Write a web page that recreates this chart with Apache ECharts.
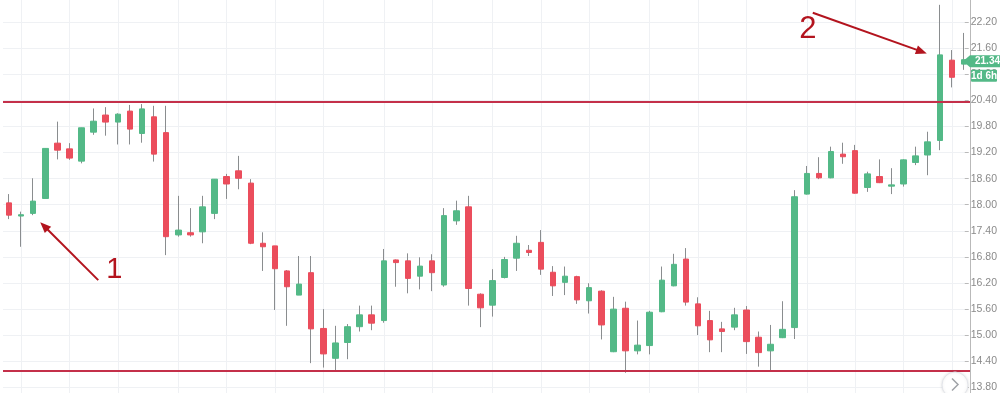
<!DOCTYPE html>
<html><head><meta charset="utf-8">
<script src="https://cdn.jsdelivr.net/npm/echarts@6.0.0/dist/echarts.min.js"></script>
<style>html,body{margin:0;padding:0;background:#fff}#c{width:1000px;height:393px}</style>
</head><body><div id="c"></div>
<script>
// ---- data ----
const opens  = [18.08,17.78,17.84,18.18,19.44,19.31,19.03,19.69,20.08,19.92,20.17,19.66,20.04,19.68,17.35,17.40,17.42,17.84,18.68,18.81,
                18.53,17.16,17.10,16.53,15.98,16.49,15.22,14.54,14.90,15.26,15.53,15.40,16.78,16.76,16.41,16.76,16.21,17.67,17.99,16.00,
                15.75,16.38,16.82,17.00,17.18,16.50,16.27,16.40,15.85,16.07,14.69,15.68,14.71,14.83,15.60,16.19,16.80,15.78,15.40,15.21,
                15.25,15.64,15.02,14.71,15.01,15.24,18.28,18.75,18.65,19.19,19.27,18.43,18.68,18.46,18.51,19.00,19.17,19.50,21.33,21.24];
const closes = [17.80,17.81,18.12,19.32,19.28,19.10,19.79,19.94,19.92,20.10,19.76,20.22,19.19,17.31,17.46,17.35,17.99,18.62,18.51,18.64,
                17.16,17.08,16.58,16.17,16.23,15.21,14.64,14.89,15.26,15.53,15.34,16.76,16.72,16.36,16.64,16.49,17.79,17.90,16.13,15.69,
                16.31,16.79,17.16,16.95,16.57,16.19,16.41,15.87,16.15,15.30,15.66,14.71,14.84,15.59,16.32,16.68,15.82,15.28,14.96,15.15,
                15.53,14.92,14.67,14.86,15.20,18.22,18.75,18.65,19.25,19.13,18.30,18.74,18.54,18.49,19.06,19.15,19.47,21.45,20.94,21.34];
const lows   = [17.71,17.08,17.80,18.18,19.07,19.06,18.98,19.63,19.61,19.41,19.41,19.45,19.02,16.89,17.31,17.31,17.16,17.71,18.17,18.39,
                17.14,16.53,15.64,15.28,15.98,14.43,14.33,14.27,14.52,15.15,15.18,15.35,16.17,16.02,16.11,16.07,16.17,17.58,15.74,15.25,
                15.49,16.36,16.53,16.87,16.44,15.96,15.98,15.78,15.56,14.97,14.68,14.21,14.63,14.63,15.59,16.18,15.74,15.07,14.68,14.68,
                15.18,14.64,14.35,14.27,15.00,14.98,18.27,18.62,18.64,18.97,18.29,18.33,18.53,18.28,18.45,18.94,18.71,19.28,20.71,21.11];
const highs  = [18.28,17.88,18.64,19.32,19.93,19.44,19.79,20.23,20.26,20.12,20.31,20.33,20.29,20.29,18.24,17.96,18.24,18.62,18.74,19.15,
                18.62,17.41,17.10,16.55,16.87,16.87,15.66,15.28,15.32,15.74,15.74,17.03,16.79,16.93,16.84,16.91,17.96,18.13,18.24,16.02,
                16.57,16.85,17.33,17.12,17.46,16.64,16.63,16.42,16.25,16.09,15.94,15.83,15.40,15.62,16.63,16.92,17.05,15.93,15.62,15.37,
                15.69,15.73,15.15,15.30,15.84,18.37,18.92,19.12,19.36,19.45,19.40,18.79,19.07,18.87,19.07,19.36,19.70,22.59,21.56,21.95];
const categories = opens.map((_, i) => 'D' + (i + 1));
const yTicks = [13.80,14.40,15.00,15.60,16.20,16.80,17.40,18.00,18.60,19.20,19.80,20.40,21.00,21.60,22.20];
const levels = [20.38, 14.25];
const gridLineIdx = [1,5,9,14,18,22,26,31,35,40,44,48,53,57,61,66,70,74,78];
const viewRange = [13.75, 22.70];
const countdown = '1d 6h';
const annotations = ['1', '2'];

// ---- chart ----
const UP = '#53b987', DOWN = '#eb4d5c', WICK = '#8a8d8f';
const H = 393, GL = 3, GR = 30;
const span = viewRange[1] - viewRange[0];
const top1 = (viewRange[1] - yTicks[yTicks.length - 1]) / span * H;
const bot1 = (yTicks[0] - viewRange[0]) / span * H;
const gridSet = new Set(gridLineIdx);

const chart = echarts.init(document.getElementById('c'), null, {renderer: 'canvas'});
chart.setOption({
  animation: false,
  backgroundColor: '#fff',
  grid: [
    {left: GL, right: GR, top: 0, bottom: 0},
    {left: GL, right: GR, top: top1, bottom: bot1}
  ],
  xAxis: [
    {type: 'category', gridIndex: 0, data: categories, boundaryGap: true,
     axisLine: {show: false}, axisTick: {show: false}, axisLabel: {show: false},
     splitLine: {show: true, interval: (i) => gridSet.has(i), alignWithLabel: true,
                 lineStyle: {color: '#eff1f4', width: 1}}},
    {type: 'category', gridIndex: 1, data: categories, show: false}
  ],
  yAxis: [
    {type: 'value', gridIndex: 0, min: viewRange[0], max: viewRange[1], position: 'right',
     axisLine: {show: true, lineStyle: {color: '#b9b9b9', width: 1}},
     axisTick: {show: false}, axisLabel: {show: false}, splitLine: {show: false}},
    {type: 'value', gridIndex: 1, min: yTicks[0], max: yTicks[yTicks.length - 1],
     interval: +(yTicks[1] - yTicks[0]).toFixed(2), position: 'right',
     axisLine: {show: false},
     axisTick: {show: true, length: 4, lineStyle: {color: '#b9b9b9'}},
     axisLabel: {color: '#8a8a8a', fontSize: 10.5, fontFamily: 'Liberation Sans, Arial, sans-serif', margin: 6,
                 formatter: (v) => v.toFixed(2)},
     splitLine: {show: true, lineStyle: {color: '#eff1f4', width: 1}}}
  ],
  series: [
    {type: 'candlestick', name: 'wick', xAxisIndex: 0, yAxisIndex: 0, clip: false, silent: true, z: 2,
     barWidth: 1,
     data: opens.map((o, i) => [o, closes[i], lows[i], highs[i]]),
     itemStyle: {color: WICK, color0: WICK, borderColor: WICK, borderColor0: WICK, borderWidth: 1}},
    {type: 'candlestick', name: 'body', xAxisIndex: 0, yAxisIndex: 0, clip: false, silent: true, z: 3,
     barWidth: 6,
     data: opens.map((o, i) => [o, closes[i], Math.min(o, closes[i]), Math.max(o, closes[i])]),
     itemStyle: {color: UP, color0: DOWN, borderColor: UP, borderColor0: DOWN, borderWidth: 1},
     markLine: {silent: true, symbol: 'none', label: {show: false},
                lineStyle: {color: '#c4304a', width: 2, type: 'solid'},
                data: levels.map(v => ({yAxis: v}))}}
  ]
});

// ---- annotations (positioned from the chart's own scales) ----
const RED = '#b3141e';
function arrow(tail, tip) {
  const dx = tip[0] - tail[0], dy = tip[1] - tail[1], L = Math.hypot(dx, dy);
  const ux = dx / L, uy = dy / L, px = -uy, py = ux, hl = 11, hw = 4.5;
  const bx = tip[0] - ux * hl, by = tip[1] - uy * hl;
  return [
    {type: 'line', z: 50, shape: {x1: tail[0], y1: tail[1], x2: bx + ux * 2, y2: by + uy * 2},
     style: {stroke: RED, lineWidth: 2}},
    {type: 'polygon', z: 50, shape: {points: [tip, [bx + px * hw, by + py * hw], [bx - px * hw, by - py * hw]]},
     style: {fill: RED}}
  ];
}
const last = closes.length - 1;
const yLast = chart.convertToPixel({yAxisIndex: 0}, closes[last]);
const p1 = chart.convertToPixel({xAxisIndex: 0, yAxisIndex: 0}, [2, lows[2]]);
const tip1 = [p1[0] + 7, p1[1] + 7];
const p2 = chart.convertToPixel({xAxisIndex: 0, yAxisIndex: 0}, [77, closes[77]]);
const tip2 = [p2[0] - 13, p2[1] - 1.5];
const axisX = 1000 - GR;

const els = [].concat(
  arrow([tip1[0] + 58, tip1[1] + 58], tip1),
  arrow([tip2[0] - 114, tip2[1] - 40.7], tip2),
  [
    {type: 'text', z: 50, style: {text: annotations[0], x: tip1[0] + 74, y: tip1[1] + 48, fill: RED,
      font: '29px "Liberation Sans", Arial, sans-serif', align: 'center', verticalAlign: 'middle'}},
    {type: 'text', z: 50, style: {text: annotations[1], x: tip2[0] - 119, y: tip2[1] - 24, fill: RED,
      font: '31px "Liberation Sans", Arial, sans-serif', align: 'center', verticalAlign: 'middle'}},
    // last price tag
    {type: 'polygon', z: 60, shape: {points: [[axisX - 7, yLast + 1.5], [axisX, yLast - 4.5], [1000, yLast - 4.5], [1000, yLast + 7.5], [axisX, yLast + 7.5]]},
     style: {fill: UP}},
    {type: 'text', z: 61, style: {text: closes[last].toFixed(2), x: axisX + 5, y: yLast + 1.8, fill: '#fff',
      font: 'bold 10px "Liberation Sans", Arial, sans-serif', align: 'left', verticalAlign: 'middle'}},
    {type: 'rect', z: 60, shape: {x: axisX + 1, y: yLast + 10, width: 26, height: 12, r: 1}, style: {fill: UP}},
    {type: 'text', z: 61, style: {text: countdown, x: axisX + 14, y: yLast + 16.2, fill: '#fff',
      font: 'bold 10px "Liberation Sans", Arial, sans-serif', align: 'center', verticalAlign: 'middle'}},
    // scroll button
    {type: 'circle', z: 60, shape: {cx: axisX - 15, cy: 385, r: 13},
     style: {fill: '#fff', stroke: '#e3e5ea', lineWidth: 1, shadowBlur: 3, shadowColor: 'rgba(0,0,0,0.10)'}},
    {type: 'polyline', z: 61, shape: {points: [[axisX - 18, 378.5], [axisX - 12, 384.5], [axisX - 18, 390.5]]},
     style: {stroke: '#a0a3a8', lineWidth: 1.5, fill: null}}
  ]
);
chart.setOption({graphic: els});
</script>
</body></html>
